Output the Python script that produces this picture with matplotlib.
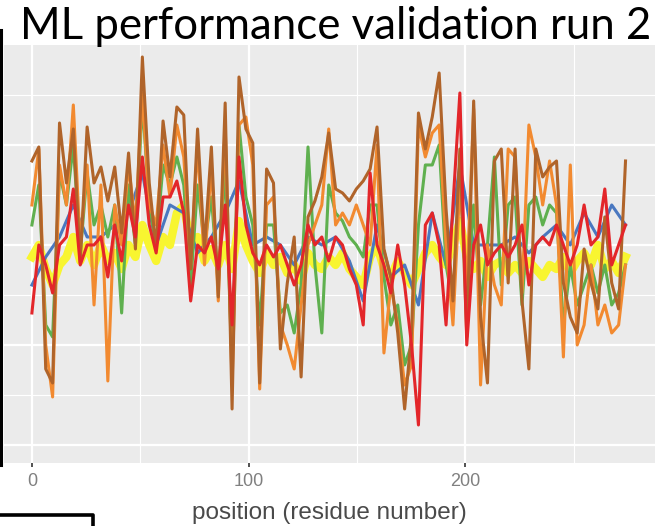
import numpy as np
import matplotlib
matplotlib.use('Agg')
import matplotlib.pyplot as plt
from matplotlib.lines import Line2D

# Posiciones muestreadas (número de residuo)
posiciones = np.linspace(0, 274, 87)
posiciones_gruesas = np.linspace(0, 274, 44)

# Valores (una serie por modelo)
marron = [0.71, 0.745, 0.19, 0.155, 0.805, 0.655, 0.79, 0.455, 0.795, 0.655,
          0.695, 0.61, 0.695, 0.53, 0.73, 0.49, 0.97, 0.655, 0.49, 0.81,
          0.67, 0.845, 0.825, 0.44, 0.79, 0.49, 0.745, 0.37, 0.855, 0.09,
          0.92, 0.79, 0.755, 0.155, 0.69, 0.655, 0.24, 0.405, 0.52, 0.17,
          0.57, 0.61, 0.67, 0.78, 0.64, 0.63, 0.61, 0.64, 0.66, 0.69,
          0.795, 0.49, 0.42, 0.28, 0.09, 0.28, 0.83, 0.74, 0.82, 0.93,
          0.59, 0.36, 0.74, 0.27, 0.86, 0.32, 0.155, 0.71, 0.74, 0.405,
          0.74, 0.36, 0.19, 0.74, 0.67, 0.695, 0.71, 0.405, 0.32, 0.28,
          0.49, 0.405, 0.34, 0.57, 0.405, 0.34, 0.71]

naranja = [0.6, 0.74, 0.25, 0.12, 0.7, 0.6, 0.85, 0.5, 0.7, 0.35,
           0.65, 0.16, 0.6, 0.5, 0.7, 0.55, 0.88, 0.6, 0.55, 0.75,
           0.62, 0.8, 0.72, 0.45, 0.75, 0.45, 0.7, 0.36, 0.8, 0.15,
           0.8, 0.82, 0.7, 0.14, 0.6, 0.62, 0.3, 0.25, 0.19, 0.35,
           0.5, 0.55, 0.6, 0.79, 0.55, 0.58, 0.55, 0.6, 0.55, 0.5,
           0.75, 0.23, 0.4, 0.3, 0.15, 0.2, 0.8, 0.72, 0.78, 0.8,
           0.5, 0.3, 0.65, 0.4, 0.84, 0.15, 0.5, 0.4, 0.35, 0.74,
           0.72, 0.38, 0.8, 0.72, 0.6, 0.71, 0.6, 0.22, 0.7, 0.25,
           0.3, 0.45, 0.3, 0.35, 0.28, 0.3, 0.45]

rojo = [0.33, 0.5, 0.45, 0.38, 0.5, 0.52, 0.64, 0.45, 0.5, 0.5,
        0.52, 0.42, 0.55, 0.46, 0.6, 0.52, 0.72, 0.55, 0.48, 0.62,
        0.62, 0.66, 0.58, 0.36, 0.5, 0.48, 0.52, 0.44, 0.6, 0.3,
        0.72, 0.55, 0.48, 0.45, 0.5, 0.47, 0.5, 0.45, 0.4, 0.45,
        0.55, 0.5, 0.52, 0.46, 0.52, 0.5, 0.44, 0.4, 0.3, 0.68,
        0.5, 0.45, 0.38, 0.5, 0.4, 0.25, 0.05, 0.55, 0.58, 0.5,
        0.3, 0.6, 0.88, 0.25, 0.5, 0.55, 0.45, 0.48, 0.5, 0.47,
        0.5, 0.55, 0.4, 0.5, 0.52, 0.5, 0.55, 0.5, 0.45, 0.5,
        0.6, 0.5, 0.52, 0.64, 0.45, 0.5, 0.55]

verde = [0.55, 0.65, 0.3, 0.27, 0.68, 0.6, 0.75, 0.48, 0.68, 0.55,
         0.6, 0.52, 0.6, 0.33, 0.65, 0.5, 0.86, 0.6, 0.5, 0.7,
         0.65, 0.72, 0.65, 0.4, 0.65, 0.5, 0.62, 0.4, 0.7, 0.2,
         0.8, 0.62, 0.55, 0.3, 0.55, 0.55, 0.33, 0.35, 0.28, 0.4,
         0.745, 0.45, 0.28, 0.65, 0.58, 0.56, 0.52, 0.5, 0.47, 0.6,
         0.6, 0.42, 0.3, 0.35, 0.2, 0.25, 0.55, 0.7, 0.7, 0.75,
         0.45, 0.35, 0.7, 0.35, 0.6, 0.35, 0.5, 0.72, 0.4, 0.6,
         0.62, 0.35, 0.6, 0.62, 0.55, 0.6, 0.58, 0.3, 0.45, 0.35,
         0.4, 0.45, 0.38, 0.45, 0.35, 0.38, 0.45]

azul = [0.4, 0.47, 0.52, 0.6, 0.52, 0.52, 0.55, 0.58, 0.68, 0.5,
        0.6, 0.58, 0.48, 0.52, 0.58, 0.66, 0.5, 0.52, 0.5, 0.45,
        0.52, 0.5, 0.52, 0.46, 0.36, 0.55, 0.42, 0.45, 0.35, 0.58,
        0.45, 0.7, 0.5, 0.5, 0.5, 0.52, 0.48, 0.52, 0.55, 0.5,
        0.58, 0.52, 0.6, 0.55]

amarillo = [0.47, 0.5, 0.44, 0.4, 0.45, 0.47, 0.52, 0.46, 0.5, 0.45,
            0.5, 0.46, 0.48, 0.44, 0.5, 0.47, 0.55, 0.5, 0.46, 0.52,
            0.5, 0.58, 0.6, 0.5, 0.52, 0.46, 0.49, 0.45, 0.5, 0.44,
            0.56, 0.5, 0.46, 0.43, 0.48, 0.45, 0.47, 0.43, 0.45, 0.41,
            0.48, 0.45, 0.44, 0.47, 0.45, 0.48, 0.44, 0.42, 0.4, 0.47,
            0.5, 0.44, 0.42, 0.46, 0.43, 0.4, 0.44, 0.48, 0.5, 0.47,
            0.45, 0.5, 0.56, 0.47, 0.44, 0.46, 0.42, 0.45, 0.46, 0.43,
            0.45, 0.43, 0.46, 0.44, 0.42, 0.45, 0.44, 0.47, 0.43, 0.46,
            0.48, 0.45, 0.5, 0.44, 0.46, 0.43, 0.47]

ticks_x = [0, 100, 200]
ticks_x_menores = [50, 150, 250]
ticks_y = [0, 0.25, 0.5, 0.75]
ticks_y_menores = [0.125, 0.375, 0.625, 0.875]

fig = plt.figure(figsize=(6.6, 5.26), dpi=100)
ax = fig.add_axes([0.006, 0.1198, 0.9864, 0.7947])
ax.set_facecolor('#ebebeb')
for s in ax.spines.values():
    s.set_visible(False)

ax.set_xlim(-12.9, 287.6)
ax.set_ylim(-0.045, 1.0)
ax.set_xticks(ticks_x)
ax.set_xticks(ticks_x_menores, minor=True)
ax.set_yticks(ticks_y)
ax.set_yticks(ticks_y_menores, minor=True)
ax.set_axisbelow(True)
ax.grid(which='major', color='white', lw=1.6)
ax.grid(which='minor', color='white', lw=0.8)
ax.tick_params(axis='y', which='both', left=False, labelleft=False)
ax.tick_params(axis='x', which='minor', bottom=False)
ax.tick_params(axis='x', which='major', length=3, width=1.2, color='#333333',
               labelsize=13, labelcolor='#808080', pad=4)
for lab in ax.get_xticklabels():
    lab.set_family('Liberation Sans')

# Líneas (amarillo abajo, rojo arriba)
ax.plot(posiciones, amarillo, color='#f8f530', lw=6, solid_joinstyle='round')
ax.plot(posiciones_gruesas, azul, color='#4a78c0', lw=2.2)
ax.plot(posiciones, verde, color='#5fb04f', lw=2.2)
ax.plot(posiciones, naranja, color='#f28a30', lw=2.2)
ax.plot(posiciones, marron, color='#b0642a', lw=2.2)
ax.plot(posiciones, rojo, color='#e3262a', lw=2.2)

ax.set_xlabel('position (residue number)', fontsize=17.5, color='#4a4a4a',
              family='Liberation Sans')
ax.xaxis.set_label_coords(0.5, -0.12)
ax.xaxis.label.set_va('center')

fig.text(20 / 660, 1 - 39 / 526, 'ML performance validation run 2',
         fontsize=31.5, family='Lato', ha='left', va='baseline', color='black')

# Restos de marcos negros del recorte
fig.add_artist(Line2D([1.3 / 660, 1.3 / 660], [1 - 30 / 526, 1 - 465 / 526],
                      transform=fig.transFigure, color='black', lw=2.2))
fig.add_artist(Line2D([0, 93 / 660, 93 / 660], [1 - 515 / 526, 1 - 515 / 526, 0],
                      transform=fig.transFigure, color='black', lw=2.6))

fig.savefig('out.png', dpi=100)
